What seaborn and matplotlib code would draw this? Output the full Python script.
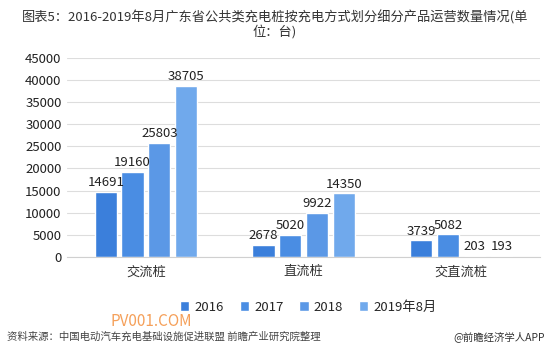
import pandas as pd
import seaborn as sns
import matplotlib.pyplot as plt

# 数据
categories = ['交流桩', '直流桩', '交直流桩']
years = ['2016', '2017', '2018', '2019年8月']
v2016 = [14691, 2678, 3739]
v2017 = [19160, 5020, 5082]
v2018 = [25803, 9922, 203]
v2019 = [38705, 14350, 193]
colors = ['#3b7fdb', '#4a8de3', '#5b98e6', '#70a9ec']

df = pd.DataFrame({
    'cat': categories * 4,
    'year': [y for y in years for _ in categories],
    'value': v2016 + v2017 + v2018 + v2019,
})

sns.set_style('white')
plt.rcParams['font.family'] = ['Noto Sans CJK SC', 'DejaVu Sans']

fig = plt.figure(figsize=(5.5, 3.51), dpi=100)
ax = fig.add_axes([0.122, 0.268, 0.86, 0.567])

sns.barplot(data=df, x='cat', y='value', hue='year', palette=colors,
            width=0.68, gap=0.17, saturation=1, ax=ax, legend=True)

for c in ax.containers:
    ax.bar_label(c, fmt='%d', fontsize=9.5, color='#222222', padding=2)

ax.set_ylim(0, 45000)
ax.set_yticks(range(0, 45001, 5000))
ax.tick_params(axis='y', labelsize=9.5, colors='#222222', length=0, pad=4)
ax.tick_params(axis='x', labelsize=9.5, colors='#333333', length=0, pad=6)
ax.yaxis.grid(True, color='#dddddd', linewidth=0.8)
ax.set_axisbelow(True)
for s in ax.spines.values():
    s.set_visible(False)
ax.spines['bottom'].set_visible(True)
ax.spines['bottom'].set_color('#d0d0d0')
ax.set_xlabel('')
ax.set_ylabel('')

ax.legend(loc='upper center', bbox_to_anchor=(0.51, -0.16), ncol=4, frameon=False,
          fontsize=9.5, handlelength=0.7, handleheight=0.7, columnspacing=1.2,
          handletextpad=0.4)

fig.text(0.5, 0.97, '图表5：2016-2019年8月广东省公共类充电桩按充电方式划分细分产品运营数量情况(单\n位：台)',
         ha='center', va='top', fontsize=9.5, color='#333333', linespacing=1.0)

fig.text(0.2, 0.085, 'PV001.COM', fontsize=11, color='#f5a05a', ha='left', va='center')
fig.text(0.012, 0.04, '资料来源：中国电动汽车充电基础设施促进联盟 前瞻产业研究院整理',
         fontsize=7.5, color='#444444', style='italic', ha='left', va='center')
fig.text(0.99, 0.04, '@前瞻经济学人APP', fontsize=7.5, color='#333333', ha='right', va='center')

fig.savefig('out.png', dpi=100)
